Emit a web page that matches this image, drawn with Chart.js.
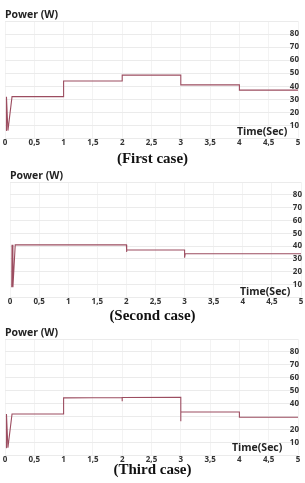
<!DOCTYPE html>
<html>
<head>
<meta charset="utf-8">
<script src="https://cdn.jsdelivr.net/npm/chart.js@4.4.0/dist/chart.umd.min.js"></script>
<style>
  body { margin: 0; background: #fff; width: 305px; height: 483px; position: relative; overflow: hidden; }
  .panel { position: absolute; left: 0; width: 305px; height: 150px; }
  .caption { position: absolute; left: 0; width: 305px; text-align: center; font-family: "Liberation Serif", serif; font-weight: bold; font-size: 15px; line-height: 17px; color: #111; }
  .xname { position: absolute; font-family: "Open Sans", sans-serif; font-weight: bold; font-size: 10.5px; color: #222; }
</style>
</head>
<body>
<div class="panel" style="top:0px"><canvas id="c1" width="305" height="150"></canvas></div>
<div class="panel" style="top:160px"><canvas id="c2" width="305" height="150"></canvas></div>
<div class="panel" style="top:320px"><canvas id="c3" width="305" height="150"></canvas></div>

<div class="xname" style="left:237px; top:124px">Time(Sec)</div>
<div class="xname" style="left:240px; top:284px">Time(Sec)</div>
<div class="xname" style="left:232px; top:440px">Time(Sec)</div>

<div class="caption" style="top:150px">(First case)</div>
<div class="caption" style="top:307px">(Second case)</div>
<div class="caption" style="top:461px">(Third case)</div>

<script>
// time axis ticks (seconds)
const timeTicks = [0, 0.5, 1, 1.5, 2, 2.5, 3, 3.5, 4, 4.5, 5]

// first case
const time1 = [0.02, 0.025, 0.05, 0.12, 1, 1, 2, 2, 3, 3, 4, 4, 5]
const power1 = [6, 32, 6, 32, 32, 44, 44, 48.5, 48.5, 41, 41, 37, 37]
const yLabels1 = [10, 20, 30, 40, 50, 60, 70, 80]

// second case
const time2 = [0.03, 0.035, 0.05, 0.09, 2, 2, 2.01, 3, 3, 3.01, 5]
const power2 = [8, 41, 8, 41, 41, 35.5, 37, 37, 31, 34, 34]
const yLabels2 = [10, 20, 30, 40, 50, 60, 70, 80]

// third case
const time3 = [0.02, 0.025, 0.05, 0.12, 1, 1, 2, 2, 2, 3, 3, 3, 4, 4, 5]
const power3 = [6, 32, 6, 32, 32, 44.5, 44.8, 41.8, 44.8, 45, 26.5, 33.5, 33.5, 29.5, 29.5]
const yLabels3 = [10, 20, 40, 50, 60, 70, 80]

const lineColor = '#9c4d60'
const labelFont = { family: 'Open Sans', weight: 'bold', size: 8 }

function makeChart(id, times, powers, yLabels, pad) {
  const points = times.map((t, i) => ({ x: t, y: powers[i] }))
  return new Chart(document.getElementById(id), {
    type: 'line',
    data: {
      datasets: [{
        data: points,
        borderColor: lineColor,
        borderWidth: 1.1,
        pointRadius: 0,
        tension: 0,
        fill: false,
      }],
    },
    options: {
      responsive: false,
      animation: false,
      layout: { padding: { left: pad.left, right: pad.right, top: 0, bottom: pad.bottom } },
      plugins: {
        legend: { display: false },
        tooltip: { enabled: false },
        title: {
          display: true,
          text: 'Power (W)',
          align: 'start',
          color: '#222',
          font: { family: 'Open Sans', weight: 'bold', size: 10.5 },
          padding: { top: pad.titleTop, bottom: 0 },
        },
      },
      scales: {
        x: {
          type: 'linear',
          min: 0,
          max: 5,
          afterBuildTicks: (axis) => { axis.ticks = timeTicks.map(v => ({ value: v })) },
          ticks: {
            color: '#333',
            font: labelFont,
            padding: 0,
            maxRotation: 0,
            callback: (v) => String(v).replace('.', ','),
          },
          grid: { color: '#f3f3f3', drawTicks: false },
          border: { display: false },
        },
        y: {
          position: 'right',
          min: 0,
          max: 90,
          ticks: {
            stepSize: 10,
            mirror: true,
            padding: 1,
            color: '#333',
            font: labelFont,
            callback: (v) => yLabels.includes(v) ? String(v) : '',
          },
          grid: { color: '#ebebeb', drawTicks: false },
          border: { display: false },
        },
      },
    },
  })
}

makeChart('c1', time1, power1, yLabels1, { left: 5, right: 5, bottom: 2, titleTop: 8.4 })
makeChart('c2', time2, power2, yLabels2, { left: 10, right: 2, bottom: 3, titleTop: 9.4 })
makeChart('c3', time3, power3, yLabels3, { left: 5, right: 5, bottom: 5, titleTop: 6.4 })
</script>
</body>
</html>
